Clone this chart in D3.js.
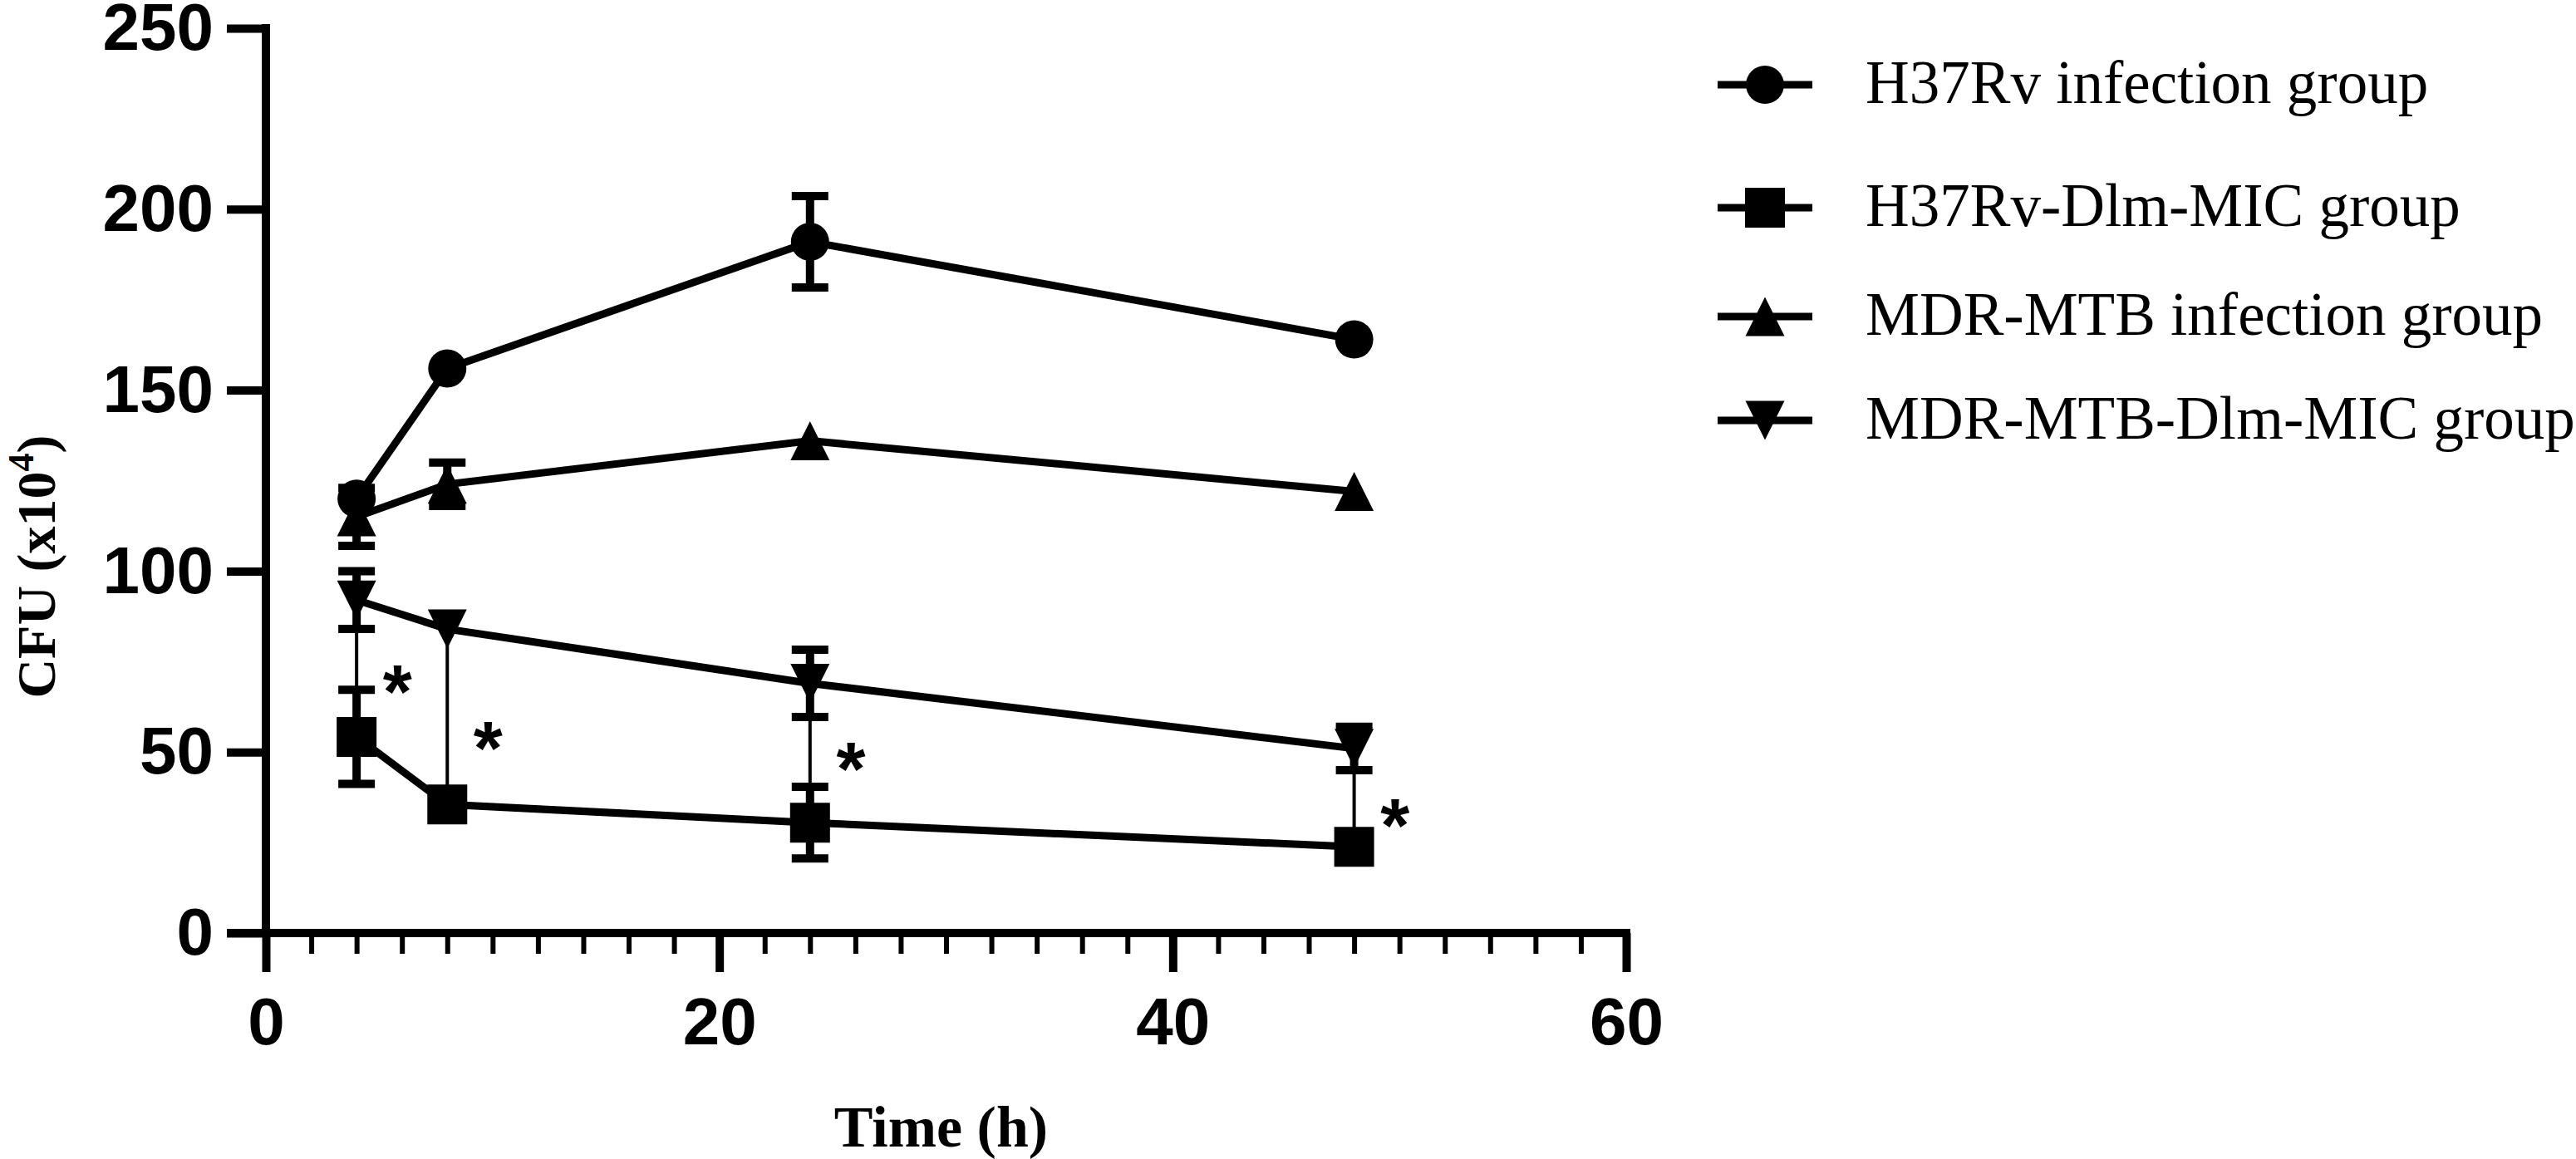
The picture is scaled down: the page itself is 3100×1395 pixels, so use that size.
<!DOCTYPE html>
<html><head><meta charset="utf-8">
<script src="https://cdn.jsdelivr.net/npm/d3@7"></script>
<style>body{margin:0;background:#fff}svg{display:block}</style>
</head><body>
<svg id="c" width="3100" height="1395"></svg>
<script>
// ---- data ----
const times = [4, 8, 24, 48];
const seriesNames = ["H37Rv infection group", "H37Rv-Dlm-MIC group", "MDR-MTB infection group", "MDR-MTB-Dlm-MIC group"];
const h37rvMean = [120, 156, 191, 164];
const h37rvSD = [0, 0, 12.6, 0];
const h37rvDlmMean = [54.2, 35.5, 30.5, 23.8];
const h37rvDlmSD = [13, 0, 9.9, 0];
const mdrMean = [115, 124, 136, 122];
const mdrSD = [8, 6, 0, 0];
const mdrDlmMean = [92, 84, 69, 51];
const mdrDlmSD = [8, 0, 9.3, 6];
const markerTypes = ["circle", "square", "triangleUp", "triangleDown"];
const yTicks = [0, 50, 100, 150, 200, 250];
const xTicks = [0, 20, 40, 60];
const xMinorTicks = d3.range(0, 61, 2).filter(v => v % 20 !== 0);
const sigLabel = "*";
const sigStarX = [5.8, 9.8, 25.8, 49.8];
const sigStarY = [71.4, 55.8, 50, 34.4];

const means = [h37rvMean, h37rvDlmMean, mdrMean, mdrDlmMean];
const sds = [h37rvSD, h37rvDlmSD, mdrSD, mdrDlmSD];

// ---- layout ----
const svg = d3.select("#c");
svg.append("rect").attr("width", 3100).attr("height", 1395).attr("fill", "#fff");
const x = d3.scaleLinear().domain([0, 60]).range([320, 1957]);
const y = d3.scaleLinear().domain([0, 250]).range([1123, 34]);
const AX = 10, TICK = 47, MINOR = 25;
const sans = "'Liberation Sans', Arial, sans-serif";
const serif = "'Liberation Serif', 'Times New Roman', serif";

function markerPath(t) {
  if (t === "triangleUp") return "M0,-23.5L23.5,23.5L-23.5,23.5Z";
  if (t === "triangleDown") return "M0,23.5L23.5,-23.5L-23.5,-23.5Z";
  if (t === "square") return "M-24,-24H24V24H-24Z";
  return d3.symbol(d3.symbolCircle, Math.PI * 23 * 23)();
}

// ---- axes ----
const yAxis = d3.axisLeft(y).tickValues(yTicks).tickSize(TICK).tickSizeOuter(0).tickPadding(16);
const gy = svg.append("g").attr("transform", `translate(${x(0)},0)`).call(yAxis);
gy.select(".domain").remove();
gy.selectAll(".tick line").attr("stroke", "#000").attr("stroke-width", AX);
gy.selectAll(".tick text").attr("font-family", sans).attr("font-weight", "bold").attr("font-size", 80).attr("fill", "#000");
gy.append("line").attr("x1", 0).attr("x2", 0).attr("y1", y(0)).attr("y2", y(250) - 5).attr("stroke", "#000").attr("stroke-width", AX);

const xAxis = d3.axisBottom(x).tickValues(xTicks).tickSize(TICK).tickSizeOuter(0).tickPadding(30);
const gx = svg.append("g").attr("transform", `translate(0,${y(0)})`).call(xAxis);
gx.select(".domain").remove();
gx.selectAll(".tick line").attr("stroke", "#000").attr("stroke-width", AX);
gx.selectAll(".tick text").attr("font-family", sans).attr("font-weight", "bold").attr("font-size", 80).attr("fill", "#000");
const xMinor = d3.axisBottom(x).tickValues(xMinorTicks).tickSize(MINOR).tickFormat("");
const gxm = svg.append("g").attr("transform", `translate(0,${y(0)})`).call(xMinor);
gxm.select(".domain").remove();
gxm.selectAll(".tick line").attr("stroke", "#000").attr("stroke-width", 6);
gx.append("line").attr("x1", x(0) - TICK).attr("x2", x(60) + 5).attr("y1", 0).attr("y2", 0).attr("stroke", "#000").attr("stroke-width", AX);

// axis titles
svg.append("text").attr("x", (x(0) + x(60)) / 2 - 6).attr("y", 1380)
  .attr("text-anchor", "middle").attr("font-family", serif).attr("font-weight", "bold").attr("font-size", 70)
  .text("Time (h)");
const yl = svg.append("text").attr("transform", `translate(66,682) rotate(-90)`)
  .attr("text-anchor", "middle").attr("font-family", serif).attr("font-weight", "bold").attr("font-size", 66);
yl.append("tspan").text("CFU (x10");
yl.append("tspan").attr("font-size", 44).attr("dy", -26).text("4");
yl.append("tspan").attr("dy", 26).text(")");

// ---- significance connectors ----
const sig = svg.append("g");
times.forEach((t, i) => {
  sig.append("line").attr("x1", x(t)).attr("x2", x(t))
    .attr("y1", y(mdrDlmMean[i])).attr("y2", y(h37rvDlmMean[i]))
    .attr("stroke", "#000").attr("stroke-width", 4);
});
sigStarX.forEach((sx, i) => {
  sig.append("text").attr("x", x(sx)).attr("y", y(sigStarY[i]) + 52)
    .attr("text-anchor", "middle").attr("font-family", sans).attr("font-weight", "bold").attr("font-size", 90)
    .attr("fill", "#000").text(sigLabel);
});

// ---- series ----
const line = d3.line().x(d => x(d.t)).y(d => y(d.v));
means.forEach((m, s) => {
  const pts = times.map((t, i) => ({ t, v: m[i], e: sds[s][i] }));
  const g = svg.append("g");
  g.append("path").datum(pts).attr("d", line).attr("fill", "none").attr("stroke", "#000").attr("stroke-width", 9);
  pts.filter(p => p.e > 0).forEach(p => {
    g.append("line").attr("x1", x(p.t)).attr("x2", x(p.t)).attr("y1", y(p.v - p.e)).attr("y2", y(p.v + p.e))
      .attr("stroke", "#000").attr("stroke-width", 10);
    [p.v - p.e, p.v + p.e].forEach(v => {
      g.append("line").attr("x1", x(p.t) - 22).attr("x2", x(p.t) + 22).attr("y1", y(v)).attr("y2", y(v))
        .attr("stroke", "#000").attr("stroke-width", 10);
    });
  });
  g.selectAll("path.mk").data(pts).enter().append("path").attr("class", "mk")
    .attr("transform", p => `translate(${x(p.t)},${y(p.v)})`)
    .attr("d", markerPath(markerTypes[s])).attr("fill", "#000");
});

// ---- legend ----
const legY = [102, 250, 381, 506];
const lg = svg.append("g");
seriesNames.forEach((n, i) => {
  lg.append("line").attr("x1", 2067).attr("x2", 2181).attr("y1", legY[i]).attr("y2", legY[i])
    .attr("stroke", "#000").attr("stroke-width", 9);
  lg.append("path").attr("transform", `translate(2124,${legY[i]})`).attr("d", markerPath(markerTypes[i])).attr("fill", "#000");
  lg.append("text").attr("x", 2245).attr("y", legY[i] + 22).attr("font-family", serif).attr("font-size", 73)
    .attr("fill", "#000").text(n);
});
</script>
</body></html>
